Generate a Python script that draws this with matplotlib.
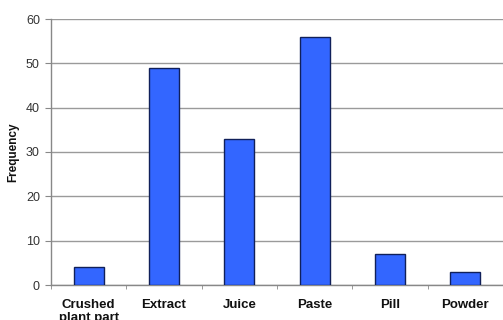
import matplotlib
matplotlib.use("Agg")
import matplotlib.pyplot as plt
import numpy as np

categories = ["Crushed\nplant part", "Extract", "Juice", "Paste", "Pill", "Powder"]
frequency = [4, 49, 33, 56, 7, 3]
y_ticks = [0, 10, 20, 30, 40, 50, 60]

plt.rcParams["font.family"] = ["Liberation Sans", "DejaVu Sans"]

fig = plt.figure(figsize=(5.03, 3.2), dpi=100)
ax = fig.add_axes([51 / 503, 35 / 320, 1 - 51 / 503, (285 - 19) / 320])

x = np.arange(len(categories))
ax.bar(x, frequency, width=0.4, color="#3366FF", edgecolor="#10205a", linewidth=1.0, zorder=3)

ax.set_xlim(-0.5, len(categories) - 0.5)
ax.set_ylim(0, 60)
ax.set_yticks(y_ticks)
ax.yaxis.grid(True, color="#9a9a9a", linewidth=1.0, zorder=0)
ax.set_axisbelow(True)

# category labels sit between the boundary ticks
ax.set_xticks(x)
ax.set_xticklabels(categories, fontweight="bold", fontsize=9.5, color="#111111", linespacing=1.15)
ax.tick_params(axis="x", length=0, pad=10)
ax.set_xticks(np.arange(-0.5, len(categories) + 0.5, 1.0), minor=True)
ax.tick_params(axis="x", which="minor", length=3, color="#888888", direction="out")

ax.tick_params(axis="y", length=4, color="#888888", labelsize=9, labelcolor="#333333", pad=4)

for side in ("top", "right"):
    ax.spines[side].set_visible(False)
for side in ("left", "bottom"):
    ax.spines[side].set_color("#888888")
    ax.spines[side].set_linewidth(1.0)

ax.set_ylabel("Frequency", fontweight="bold", fontsize=8.5, color="#111111", labelpad=5)

fig.savefig("out.png", dpi=100)
